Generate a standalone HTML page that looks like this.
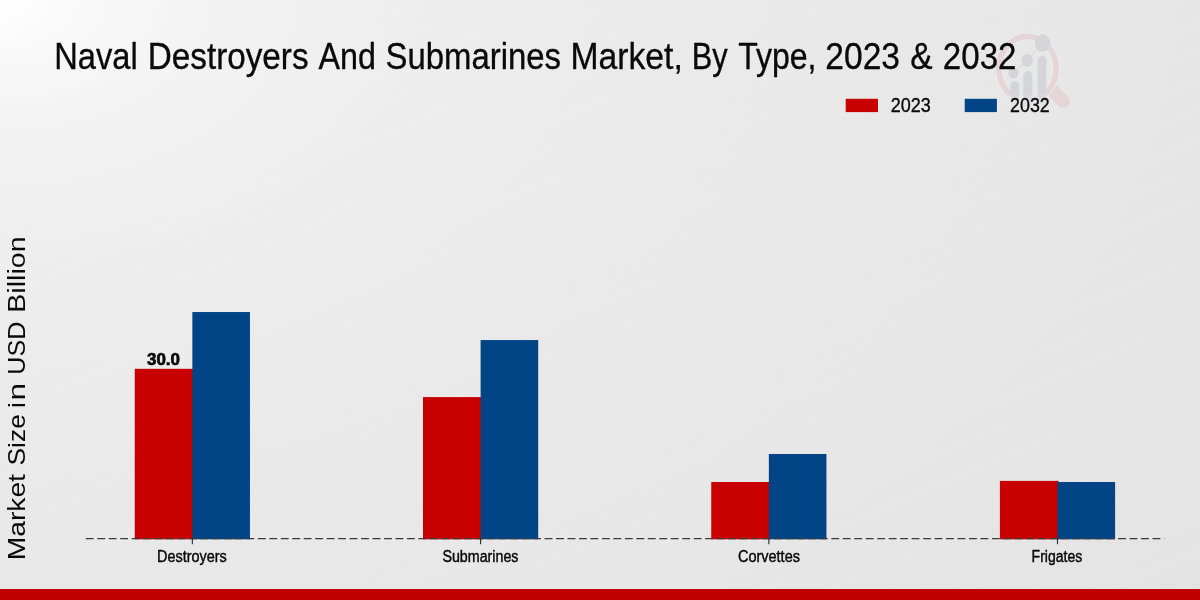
<!DOCTYPE html>
<html><head><meta charset="utf-8"><title>Naval Destroyers And Submarines Market</title>
<style>
html,body{margin:0;padding:0;width:1200px;height:600px;overflow:hidden;background:#e9e9e9}
svg{display:block;position:absolute;left:0;top:0;will-change:transform}
text{font-family:"Liberation Sans",sans-serif;fill:#0a0a0a}
</style></head><body>
<svg width="1200" height="600" viewBox="0 0 1200 600">
<defs>
<radialGradient id="bg" gradientUnits="userSpaceOnUse" cx="0" cy="0" r="1500" gradientTransform="scale(1,0.625)">
<stop offset="0.0000" stop-color="#ffffff"/>
<stop offset="0.0667" stop-color="#f8f8f8"/>
<stop offset="0.1333" stop-color="#f3f3f3"/>
<stop offset="0.2000" stop-color="#f0f0f0"/>
<stop offset="0.2667" stop-color="#eeeeee"/>
<stop offset="0.4000" stop-color="#ebebeb"/>
<stop offset="0.5333" stop-color="#e9e9e9"/>
<stop offset="0.6333" stop-color="#e8e8e8"/>
<stop offset="0.8000" stop-color="#e6e6e6"/>
<stop offset="1.0000" stop-color="#e4e4e4"/>
</radialGradient>
<linearGradient id="barfade" gradientUnits="userSpaceOnUse" x1="0" y1="55" x2="0" y2="108">
<stop offset="0" stop-color="#d4d5d9"/>
<stop offset="0.72" stop-color="#d4d5d9"/>
<stop offset="1" stop-color="#d4d5d9" stop-opacity="0"/>
</linearGradient>
<linearGradient id="st" x1="0" y1="0" x2="0" y2="1">
<stop offset="0" stop-color="#fff" stop-opacity="0"/>
<stop offset="0.06" stop-color="#fff" stop-opacity="0.075"/>
<stop offset="0.12" stop-color="#fff" stop-opacity="0"/>
<stop offset="0.50" stop-color="#fff" stop-opacity="0"/>
<stop offset="0.54" stop-color="#fff" stop-opacity="0.05"/>
<stop offset="0.58" stop-color="#fff" stop-opacity="0"/>
<stop offset="1" stop-color="#fff" stop-opacity="0"/>
</linearGradient>
<pattern id="stripes" patternUnits="userSpaceOnUse" width="400" height="54" patternTransform="rotate(-23)">
<rect x="0" y="0" width="400" height="54" fill="url(#st)"/>
</pattern>
<clipPath id="ringclip"><path d="M980,20H1080V120H980z M1009.5,95H1047.5V112H1009.5z" clip-rule="evenodd"/></clipPath>
</defs>
<rect x="0" y="0" width="1200" height="600" fill="url(#bg)"/>
<rect x="0" y="0" width="1200" height="589" fill="url(#stripes)"/>
<g id="logo">
<line x1="1052" y1="90" x2="1063.4" y2="101.4" stroke="#e6d5d7" stroke-width="13.2" stroke-linecap="round"/>
<g clip-path="url(#ringclip)">
<ellipse cx="1027.5" cy="68.56" rx="28.75" ry="32.1" fill="none" stroke="#ececec" stroke-width="7.6"/>
<ellipse cx="1027.5" cy="68.56" rx="28.75" ry="32.1" fill="none" stroke="#e6d5d7" stroke-width="5.7"/>
</g>
<g fill="url(#barfade)" stroke="none">
<path d="M1010.3,108V85.8a4.35,4.9 0 0 1 8.7,0V108z"/>
<path d="M1023.3,108V76a4.5,5 0 0 1 9,0V108z"/>
<path d="M1037.6,108V60.6a4.4,4.9 0 0 1 8.8,0V108z"/>
</g>
<g fill="#d4d5d9" stroke="none">
<ellipse cx="1013.4" cy="73.1" rx="5" ry="5.6"/>
<ellipse cx="1027.1" cy="60.5" rx="5.7" ry="6.4"/>
<ellipse cx="1042.6" cy="43.1" rx="7.85" ry="8.75"/>
</g>
<polyline points="1013.4,73.1 1027.1,60.5 1042.6,43.1" fill="none" stroke="#d4d5d9" stroke-width="0.9"/>
</g>
<g id="bars">
<rect x="134.75" y="368.80" width="58.60" height="170.50" fill="#c80000"/>
<rect x="192.35" y="312.03" width="57.60" height="227.27" fill="#024586"/>
<rect x="423.00" y="397.10" width="58.60" height="142.20" fill="#c80000"/>
<rect x="480.60" y="340.05" width="57.60" height="199.25" fill="#024586"/>
<rect x="711.25" y="482.00" width="58.60" height="57.30" fill="#c80000"/>
<rect x="768.85" y="453.98" width="57.60" height="85.32" fill="#024586"/>
<rect x="999.90" y="480.87" width="58.60" height="58.43" fill="#c80000"/>
<rect x="1057.50" y="482.00" width="57.60" height="57.30" fill="#024586"/>
</g>
<line x1="85.8" y1="538.6" x2="1164.2" y2="538.6" stroke="#3a3a3a" stroke-width="1.4" stroke-dasharray="7.85 3.62"/>
<line x1="192.35" y1="538.60" x2="192.35" y2="544.20" stroke="#2a2a2a" stroke-width="1.1"/>
<line x1="480.60" y1="538.60" x2="480.60" y2="544.20" stroke="#2a2a2a" stroke-width="1.1"/>
<line x1="768.85" y1="538.60" x2="768.85" y2="544.20" stroke="#2a2a2a" stroke-width="1.1"/>
<line x1="1057.50" y1="538.60" x2="1057.50" y2="544.20" stroke="#2a2a2a" stroke-width="1.1"/>
<g font-size="36.6" stroke="#000" stroke-width="0.3" stroke-linejoin="round">
<text transform="translate(54.27,68.75) scale(0.8919,1)" vector-effect="non-scaling-stroke">Naval</text>
<text transform="translate(147.83,68.75) scale(0.9083,1)" vector-effect="non-scaling-stroke">Destroyers</text>
<text transform="translate(318.54,68.75) scale(0.8814,1)" vector-effect="non-scaling-stroke">And</text>
<text transform="translate(385.59,68.75) scale(0.8982,1)" vector-effect="non-scaling-stroke">Submarines</text>
<text transform="translate(570.49,68.75) scale(0.921,1)" vector-effect="non-scaling-stroke">Market,</text>
<text transform="translate(691.63,68.75) scale(0.8404,1)" vector-effect="non-scaling-stroke">By</text>
<text transform="translate(738.13,68.75) scale(0.875,1)" vector-effect="non-scaling-stroke">Type,</text>
<text transform="translate(825.33,68.75) scale(0.9169,1)" vector-effect="non-scaling-stroke">2023</text>
<text transform="translate(910.26,68.75) scale(0.9149,1)" vector-effect="non-scaling-stroke">&amp;</text>
<text transform="translate(942.85,68.75) scale(0.9042,1)" vector-effect="non-scaling-stroke">2032</text>
</g>
<g font-size="17.2" stroke="#000" stroke-width="0.4" stroke-linejoin="round">
<text transform="translate(157.05,561.9) scale(0.8394,1)" vector-effect="non-scaling-stroke">Destroyers</text>
<text transform="translate(442.38,561.9) scale(0.8299,1)" vector-effect="non-scaling-stroke">Submarines</text>
<text transform="translate(737.96,561.9) scale(0.843,1)" vector-effect="non-scaling-stroke">Corvettes</text>
<text transform="translate(1031.58,561.9) scale(0.8166,1)" vector-effect="non-scaling-stroke">Frigates</text>
</g>
<g font-size="20.2" stroke="#000" stroke-width="0.3" stroke-linejoin="round">
<text transform="translate(890.76,112.2) scale(0.893,1)" vector-effect="non-scaling-stroke">2023</text>
<text transform="translate(1010.07,112.2) scale(0.884,1)" vector-effect="non-scaling-stroke">2032</text>
</g>
<g font-size="16.2" font-weight="bold" stroke="#000" stroke-width="0.6" stroke-linejoin="round">
<text transform="translate(147.01,365.2) scale(1.0459,1)" vector-effect="non-scaling-stroke">30.0</text>
</g>
<g font-size="23.4" transform="translate(24.6,558.0) rotate(-90)">
<text transform="translate(-2.26,0) scale(1.2058,1)">Market</text>
<text transform="translate(92.53,0) scale(1.1274,1)">Size</text>
<text transform="translate(149.8,0) scale(1.2,1)">i</text>
<text transform="translate(157.51,0) scale(1.3468,1)">n</text>
<text transform="translate(183.33,0) scale(1.071,1)">USD</text>
<text transform="translate(245.2,0) scale(1.2254,1)">Billion</text>
</g>
<rect x="845.7" y="98.8" width="32.3" height="13.3" fill="#c80000"/>
<rect x="964.7" y="98.8" width="32.2" height="13.3" fill="#024586"/>
<rect x="0" y="589" width="1200" height="11" fill="#c00000"/>
</svg>
</body></html>
